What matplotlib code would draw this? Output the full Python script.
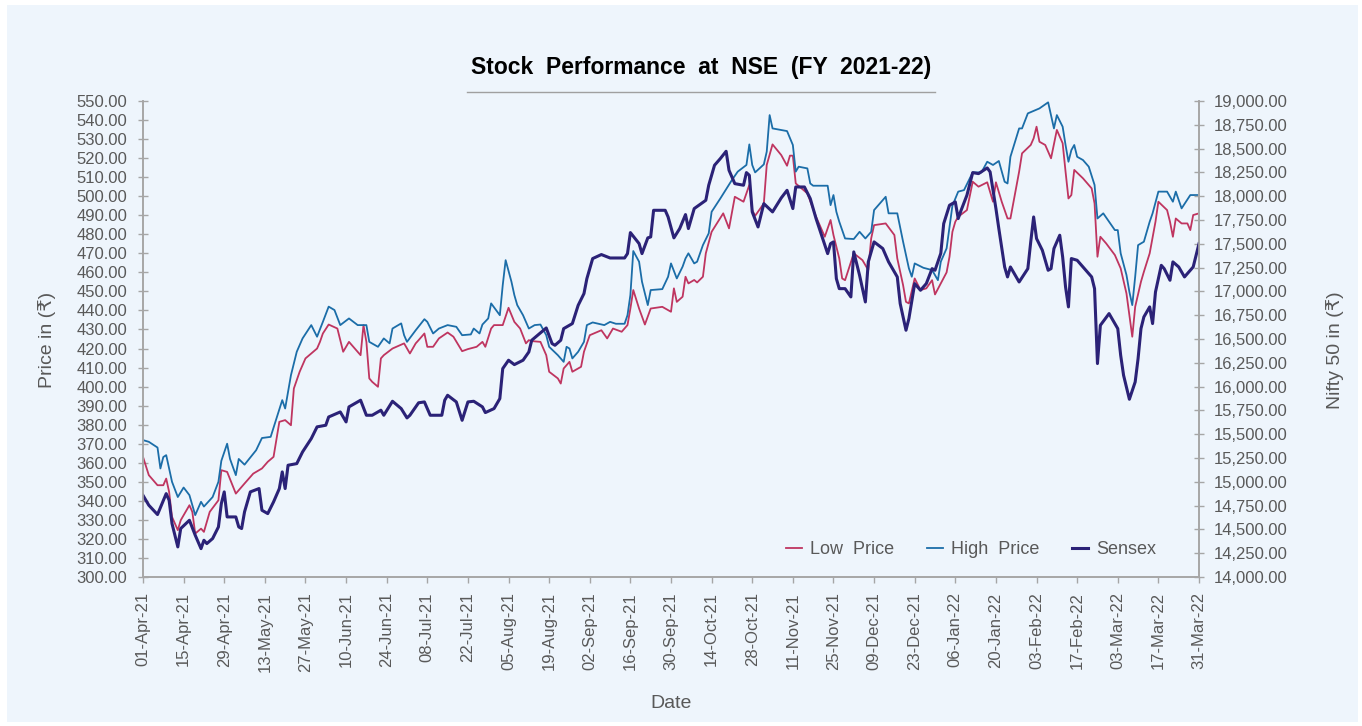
import pandas as pd
import matplotlib
matplotlib.use('Agg')
import matplotlib.pyplot as plt
import matplotlib.dates as mdates
from matplotlib.ticker import MultipleLocator, StrMethodFormatter
from matplotlib.patches import Rectangle
from matplotlib.lines import Line2D

plt.rcParams['font.family'] = ['Liberation Sans', 'DejaVu Sans']

start = pd.Timestamp('2021-04-01')
end = pd.Timestamp('2022-03-31')

# values, x = days after 01-Apr-21
low_day = [0, 2, 5, 7, 8, 9, 10, 12, 13, 16, 17, 18, 20, 21, 23, 26, 27, 29, 32, 35,
           38, 41, 43, 45, 47, 49, 51, 52, 54, 56, 60, 61, 62, 64, 67, 69, 71, 75, 76, 77,
           78, 79, 81, 82, 83, 86, 90, 92, 94, 95, 97, 98, 100, 102, 105, 107, 110, 112, 115, 117,
           118, 120, 121, 124, 126, 128, 130, 132, 133, 134, 137, 139, 140, 143, 144, 145, 147, 148, 151, 152,
           154, 158, 160, 162, 165, 167, 168, 169, 171, 173, 175, 179, 182, 183, 184, 186, 187, 188, 190, 191,
           193, 194, 196, 200, 202, 204, 207, 209, 210, 211, 214, 215, 217, 220, 222, 223, 224, 225, 227, 229,
           232, 235, 237, 238, 240, 241, 242, 245, 248, 250, 251, 252, 256, 259, 260, 262, 263, 264, 266, 268,
           270, 272, 273, 275, 277, 278, 279, 280, 281, 284, 286, 288, 291, 293, 294, 296, 298, 299, 302, 303,
           306, 307, 308, 309, 311, 313, 315, 317, 318, 319, 320, 321, 324, 327, 328, 329, 330, 332, 335, 337,
           339, 341, 342, 344, 345, 347, 349, 350, 353, 354, 355, 356, 358, 360, 361, 362, 364]
low_price = [363.1, 353.5, 348.2, 348.2, 351.7, 344.7, 331.6, 324.6, 329.8, 337.7, 334.2, 322.8, 325.4, 323.7, 334.2, 340.3, 356.1, 355.2, 343.8, 349.1,
             354.3, 357.0, 360.5, 363.1, 381.5, 382.4, 379.7, 399.0, 407.8, 414.8, 420.0, 423.5, 427.9, 432.6, 430.5, 418.3, 423.5, 416.5, 432.3, 423.5,
             404.3, 402.5, 399.9, 414.8, 416.5, 420.0, 422.7, 417.4, 422.7, 424.4, 427.9, 420.9, 420.9, 425.3, 428.4, 426.2, 418.6, 419.7, 420.9, 423.5,
             420.9, 430.5, 432.3, 432.3, 441.4, 434.0, 430.5, 422.7, 424.4, 423.9, 423.5, 416.5, 407.8, 404.3, 401.6, 409.5, 413.0, 407.8, 410.4, 418.3,
             427.0, 429.6, 425.3, 430.5, 428.8, 432.3, 441.0, 450.7, 441.0, 432.6, 441.0, 441.9, 439.3, 451.6, 444.5, 447.2, 457.7, 454.2, 456.0, 454.7,
             457.7, 470.0, 481.3, 491.0, 483.1, 499.7, 497.1, 505.9, 492.7, 489.7, 496.2, 516.4, 527.2, 521.6, 516.0, 521.3, 521.3, 506.7, 504.1, 501.5,
             489.2, 478.7, 487.5, 479.6, 467.3, 456.8, 455.9, 470.0, 466.4, 461.2, 477.8, 484.8, 485.7, 479.6, 467.3, 453.3, 444.5, 443.7, 456.8, 450.7,
             451.6, 455.9, 448.4, 454.2, 460.0, 468.2, 481.3, 486.6, 489.2, 492.7, 507.6, 505.0, 507.3, 497.1, 507.3, 497.1, 488.3, 488.3, 512.9, 522.5,
             526.9, 530.4, 536.5, 528.6, 526.9, 519.9, 534.8, 527.8, 512.9, 498.8, 500.6, 513.8, 509.4, 504.1, 496.2, 468.2, 478.7, 475.2, 469.1, 462.1,
             448.9, 426.2, 441.9, 455.1, 460.3, 470.0, 486.6, 497.1, 492.7, 486.6, 478.7, 488.3, 485.7, 485.7, 482.2, 490.1, 491.0]

high_day = [0, 2, 5, 6, 7, 8, 9, 10, 12, 14, 16, 18, 20, 21, 24, 26, 27, 29, 30, 32,
            33, 35, 39, 41, 44, 46, 48, 49, 51, 53, 55, 58, 60, 62, 64, 66, 68, 71, 74, 77,
            78, 81, 83, 85, 86, 89, 90, 91, 94, 97, 98, 100, 102, 105, 108, 110, 113, 114, 116, 117,
            119, 120, 123, 124, 125, 127, 128, 129, 131, 133, 135, 137, 139, 140, 143, 145, 146, 147, 148, 150,
            152, 153, 155, 159, 161, 163, 166, 167, 168, 169, 171, 172, 174, 175, 179, 181, 182, 184, 186, 187,
            188, 190, 191, 193, 195, 196, 199, 203, 205, 208, 209, 210, 211, 214, 215, 216, 217, 222, 224, 225,
            226, 229, 230, 231, 236, 237, 238, 239, 240, 242, 245, 247, 249, 251, 252, 254, 256, 257, 260, 262,
            264, 265, 266, 269, 272, 274, 275, 277, 279, 281, 283, 286, 289, 291, 293, 295, 297, 298, 299, 302,
            303, 305, 309, 312, 314, 315, 317, 318, 319, 320, 321, 322, 324, 326, 328, 329, 331, 335, 336, 337,
            339, 340, 341, 342, 343, 345, 347, 348, 350, 353, 355, 356, 358, 361, 364]
high_price = [371.9, 371.0, 368.0, 357.0, 363.0, 364.0, 357.0, 350.0, 342.0, 347.0, 343.0, 332.5, 339.5, 337.0, 342.0, 350.0, 361.0, 370.0, 362.0, 353.5,
              362.0, 359.0, 366.6, 373.0, 373.6, 383.2, 392.9, 388.5, 406.0, 418.3, 425.3, 432.3, 426.2, 434.0, 442.0, 440.2, 432.3, 435.8, 432.3, 432.3,
              423.5, 420.9, 425.3, 422.7, 430.5, 433.2, 427.0, 423.5, 429.6, 435.4, 434.0, 427.9, 430.5, 432.3, 431.4, 427.0, 427.4, 430.5, 427.9, 432.6,
              435.8, 443.7, 437.5, 453.3, 466.4, 455.1, 448.1, 442.8, 437.5, 430.5, 432.3, 432.6, 427.0, 420.9, 416.5, 413.0, 420.9, 420.0, 414.8, 418.3,
              423.5, 432.3, 433.7, 432.3, 434.0, 433.0, 433.0, 437.5, 448.1, 471.2, 465.6, 455.1, 442.8, 450.7, 451.2, 457.7, 464.7, 456.8, 463.0, 467.3,
              470.0, 464.7, 465.6, 474.3, 480.5, 491.8, 498.8, 508.5, 512.9, 516.4, 527.2, 516.4, 512.5, 516.7, 523.4, 542.6, 535.6, 534.2, 526.9, 512.9,
              515.5, 514.6, 506.7, 505.5, 505.5, 495.3, 500.6, 491.8, 486.6, 477.8, 477.5, 481.3, 477.8, 481.3, 492.7, 496.2, 499.7, 491.0, 491.0, 476.1,
              462.1, 457.7, 464.7, 462.4, 461.2, 455.9, 465.6, 472.6, 495.0, 502.4, 503.2, 512.5, 512.5, 518.1, 516.4, 518.5, 507.6, 506.7, 520.7, 535.6,
              535.6, 543.5, 546.1, 549.3, 535.6, 542.6, 536.5, 526.9, 518.1, 524.2, 526.9, 520.7, 519.0, 515.5, 505.9, 488.3, 491.0, 482.2, 482.2, 470.0,
              458.6, 449.8, 442.8, 457.7, 474.3, 476.1, 486.6, 491.0, 502.4, 502.4, 497.1, 502.4, 493.6, 500.6, 500.6]

sensex_day = [0, 2, 5, 8, 9, 10, 12, 13, 16, 18, 20, 21, 22, 24, 26, 27, 28, 29, 32, 33,
              34, 35, 37, 40, 41, 43, 45, 47, 48, 49, 50, 53, 55, 58, 60, 63, 64, 68, 70, 71,
              75, 77, 79, 82, 83, 86, 89, 91, 92, 95, 97, 99, 103, 104, 105, 108, 110, 112, 114, 117,
              118, 121, 123, 124, 126, 128, 131, 133, 134, 136, 139, 141, 142, 144, 145, 148, 150, 152, 153, 155,
              158, 161, 166, 167, 168, 171, 172, 174, 175, 176, 180, 181, 183, 185, 187, 188, 190, 194, 195, 197,
              199, 201, 202, 204, 207, 208, 209, 210, 212, 214, 217, 220, 222, 224, 225, 228, 230, 232, 236, 237,
              238, 239, 240, 242, 244, 245, 247, 249, 250, 252, 255, 257, 260, 261, 263, 264, 266, 268, 270, 272,
              273, 275, 276, 278, 280, 281, 282, 284, 286, 288, 291, 292, 294, 295, 297, 298, 299, 302, 305, 306,
              307, 308, 310, 312, 313, 314, 316, 317, 318, 319, 320, 322, 325, 327, 328, 329, 330, 333, 336, 337,
              338, 340, 342, 343, 344, 345, 347, 348, 349, 351, 352, 354, 355, 357, 359, 361, 362, 364]
sensex = [14858, 14754, 14656, 14876, 14806, 14561, 14316, 14509, 14596, 14439, 14298, 14386, 14351, 14404, 14526, 14771, 14894, 14631, 14631, 14526,
          14509, 14684, 14894, 14929, 14701, 14666, 14789, 14929, 15104, 14929, 15174, 15191, 15314, 15454, 15577, 15594, 15681, 15734, 15629, 15787,
          15857, 15699, 15699, 15752, 15699, 15846, 15769, 15671, 15699, 15830, 15839, 15699, 15699, 15857, 15909, 15839, 15646, 15839, 15846, 15787,
          15727, 15769, 15874, 16189, 16277, 16231, 16277, 16364, 16487, 16539, 16616, 16452, 16434, 16487, 16609, 16662, 16854, 16977, 17134, 17345,
          17387, 17351, 17351, 17397, 17618, 17502, 17397, 17562, 17572, 17852, 17852, 17782, 17562, 17660, 17807, 17660, 17870, 17957, 18115, 18325,
          18395, 18472, 18272, 18132, 18115, 18248, 18220, 17835, 17677, 17922, 17835, 17982, 18062, 17870, 18097, 18097, 17975, 17765, 17397, 17502,
          17520, 17134, 17029, 17029, 16942, 17415, 17169, 16889, 17310, 17520, 17450, 17310, 17152, 16872, 16592, 16714, 17082, 17012, 17082, 17239,
          17222, 17400, 17712, 17905, 17940, 17765, 17852, 18010, 18248, 18237, 18297, 18255, 17870, 17660, 17257, 17152, 17257, 17099, 17239, 17520,
          17782, 17555, 17432, 17222, 17239, 17450, 17590, 17362, 17047, 16837, 17345, 17327, 17222, 17152, 17029, 16242, 16644, 16767, 16609, 16329,
          16119, 15867, 16049, 16294, 16609, 16732, 16837, 16662, 16994, 17274, 17239, 17117, 17310, 17257, 17152, 17222, 17257, 17502]

low_dates = start + pd.to_timedelta(low_day, unit='D')
high_dates = start + pd.to_timedelta(high_day, unit='D')
sensex_dates = start + pd.to_timedelta(sensex_day, unit='D')

W, H = 1362, 726
grey_txt = '#595959'
spine_c = '#A6A6A6'

fig = plt.figure(figsize=(W / 100, H / 100), dpi=100)
fig.patch.set_facecolor('white')
fig.add_artist(Rectangle((7 / W, 4 / H), 1351 / W, 717 / H, transform=fig.transFigure,
                         facecolor='#EEF5FC', edgecolor='none', zorder=-10))

ax = fig.add_axes([143 / W, 1 - 577 / H, 1056 / W, 476 / H])
ax.set_facecolor('none')
ax2 = ax.twinx()

l1, = ax.plot(low_dates, low_price, color='#BF3560', lw=1.3)
l2, = ax.plot(high_dates, high_price, color='#1B6DA8', lw=1.3)
l3, = ax2.plot(sensex_dates, sensex, color='#2B2277', lw=2.2)

ax.set_xlim(start, end)
ax.set_ylim(300, 550)
ax2.set_ylim(14000, 19000)
ax.yaxis.set_major_locator(MultipleLocator(10))
ax.yaxis.set_major_formatter(StrMethodFormatter('{x:.2f}'))
ax2.yaxis.set_major_locator(MultipleLocator(250))
ax2.yaxis.set_major_formatter(StrMethodFormatter('{x:,.2f}'))

ax.set_xticks(pd.date_range(start, end, freq='14D'))
ax.xaxis.set_major_formatter(mdates.DateFormatter('%d-%b-%y'))
ax.tick_params(axis='x', direction='out', length=4, width=1, color=spine_c,
               labelsize=12, labelcolor=grey_txt, labelrotation=90, pad=7)
ax.tick_params(axis='y', direction='inout', length=7, width=1, color=spine_c,
               labelsize=12, labelcolor=grey_txt, pad=8)
ax2.tick_params(axis='y', direction='inout', length=7, width=1, color=spine_c,
                labelsize=12, labelcolor=grey_txt, pad=7)

for a in (ax, ax2):
    a.spines['top'].set_visible(False)
    for s in ('left', 'right', 'bottom'):
        a.spines[s].set_color(spine_c)
        a.spines[s].set_linewidth(1.2)

ax.legend([l1, l2, l3], ['Low  Price', 'High  Price', 'Sensex'], loc='center right',
          bbox_to_anchor=(0.975, 0.058), ncol=3, frameon=False, fontsize=13,
          handlelength=0.9, handletextpad=0.45, columnspacing=1.8, labelcolor=grey_txt)

fig.text(701 / W, 1 - 74 / H, 'Stock  Performance  at  NSE  (FY  2021-22)',
         ha='center', va='baseline', fontsize=16.5, fontweight='bold', color='black')
fig.add_artist(Line2D([467 / W, 935 / W], [1 - 91.5 / H, 1 - 91.5 / H],
                      transform=fig.transFigure, color='#A0A0A0', lw=1))

fig.text(47 / W, 1 - 340 / H, 'Price in (₹)', rotation=90, ha='center', va='center',
         fontsize=14, color=grey_txt)
fig.text(1335 / W, 1 - 350 / H, 'Nifty 50 in (₹)', rotation=90, ha='center', va='center',
         fontsize=14, color=grey_txt)
fig.text(671 / W, 1 - 703 / H, 'Date', ha='center', va='center', fontsize=14, color=grey_txt)

fig.savefig('out.png', dpi=100)
